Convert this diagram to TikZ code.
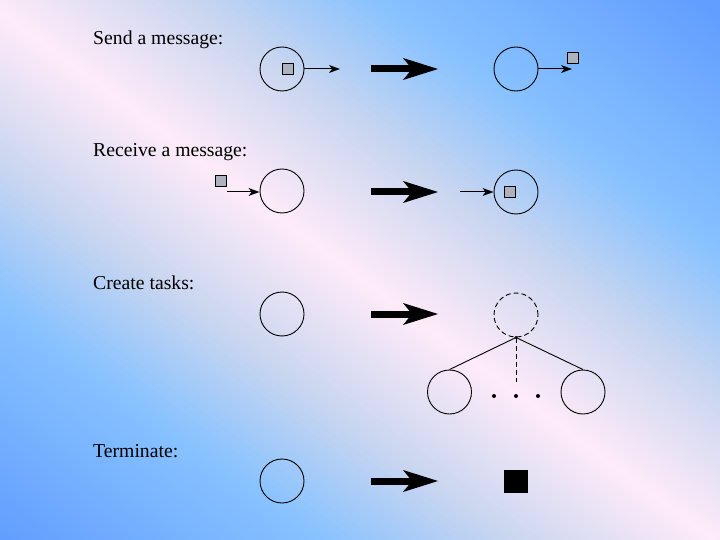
\documentclass[tikz,border=0pt]{standalone}
\usepackage{fontspec}
\setmainfont{Liberation Serif}
\usetikzlibrary{arrows.meta}
\definecolor{bgblue}{RGB}{98,158,255}
\definecolor{bglight}{RGB}{136,194,255}
\definecolor{bggray}{RGB}{202,214,240}
\definecolor{bgpink}{RGB}{255,235,249}
\definecolor{msggray}{RGB}{172,178,190}
\begin{document}
\begin{tikzpicture}[x=1pt,y=-1pt,
  task/.style={circle,draw,line width=0.9pt,minimum size=44pt,inner sep=0pt},
  dtask/.style={task,dash pattern=on 5pt off 3pt},
  msg/.style={draw,line width=0.8pt,fill=msggray,minimum width=11pt,minimum height=11pt,inner sep=0pt},
  dead/.style={fill=black,minimum width=24pt,minimum height=23pt,inner sep=0pt},
  lbl/.style={anchor=base west,inner sep=0pt,font=\fontsize{19.7}{23}\selectfont},
  smallarrow/.style={line width=1pt,-{Stealth[length=11pt,width=8pt,inset=3pt,line width=0pt]}},
  bigarrow/.style={line width=7pt,-{Stealth[length=35pt,width=22pt,inset=9pt,line width=0pt]}},
  dotmark/.style={circle,fill=black,minimum size=4pt,inner sep=0pt}]
\useasboundingbox (0,0) rectangle (720,540);
\begin{scope}
\clip (0,0) rectangle (720,540);
\fill[bgblue] (0,0) rectangle (720,540);
\begin{scope}[shift={(360,278)},rotate=-36.5]
\foreach \d in {426,423,...,3}{%
  \ifdim\d pt<122pt
    \pgfmathsetmacro\pa{\d/122*100}%
    \colorlet{cc}{bggray!\pa!bgpink}%
  \else
    \ifdim\d pt<235pt
      \pgfmathsetmacro\pb{(\d-122)/113*100}%
      \colorlet{cc}{bglight!\pb!bggray}%
    \else
      \pgfmathsetmacro\pc{min(100,(\d-235)/190*100)}%
      \colorlet{cc}{bgblue!\pc!bglight}%
    \fi
  \fi
  \fill[cc] (-800,-\d) rectangle (800,\d);
}
\end{scope}
\end{scope}
% labels
\node[lbl] (l1) at (93,45) {Send a message:};
\node[lbl] (l2) at (93,157) {Receive a message:};
\node[lbl] (l3) at (93,289) {Create tasks:};
\node[lbl] (l4) at (93,457) {Terminate:};
% row 1: send
\node[task] (s1) at (282,69) {};
\node[msg] (m1) at (288,69) {};
\coordinate (s1e) at (340,69);
\draw[smallarrow] (s1.east) -- (s1e);
\coordinate (b1s) at (371,69);
\coordinate (b1e) at (438,69);
\draw[bigarrow] (b1s) -- (b1e);
\node[task] (s2) at (516,69) {};
\coordinate (s2e) at (572,69);
\draw[smallarrow] (s2.east) -- (s2e);
\node[msg] (m2) at (573,58) {};
% row 2: receive
\node[msg] (m3) at (221,181) {};
\coordinate (r1s) at (227,192);
\node[task] (r1) at (282,191) {};
\draw[smallarrow] (r1s) -- (r1.west |- r1s);
\coordinate (b2s) at (371,192);
\coordinate (b2e) at (438,192);
\draw[bigarrow] (b2s) -- (b2e);
\coordinate (r2s) at (460,192);
\node[task] (r2) at (516,192) {};
\draw[smallarrow] (r2s) -- (r2.west);
\node[msg] (m4) at (510,192) {};
% row 3: create
\node[task] (c0) at (282,314) {};
\coordinate (b3s) at (371,314);
\coordinate (b3e) at (438,314);
\draw[bigarrow] (b3s) -- (b3e);
\node[dtask] (d) at (516,315) {};
\node[task] (c1) at (449.5,392) {};
\node[task] (c2) at (583,392) {};
\coordinate (j) at (516,337.5);
\coordinate (je) at (516,382);
\draw[line width=0.9pt] (j) -- (c1.north);
\draw[line width=0.9pt] (j) -- (c2.north);
\draw[line width=0.9pt,dash pattern=on 5pt off 3pt] (j) -- (je);
\fill (j) circle (1.6pt);
\node[dotmark] (p1) at (494,396) {};
\node[dotmark] (p2) at (516,396) {};
\node[dotmark] (p3) at (538,396) {};
% row 4: terminate
\node[task] (t0) at (282,481) {};
\coordinate (b4s) at (371,481);
\coordinate (b4e) at (438,481);
\draw[bigarrow] (b4s) -- (b4e);
\node[dead] (t1) at (516,481.5) {};
\end{tikzpicture}
\end{document}
